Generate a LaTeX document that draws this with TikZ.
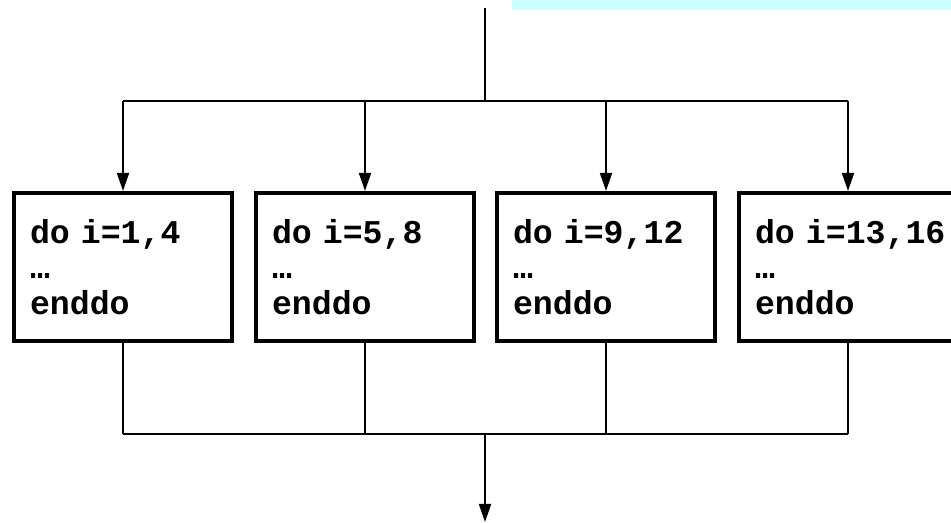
\documentclass[tikz,border=0pt]{standalone}
\usepackage{fontspec}
\newfontfamily\codefont{Liberation Mono}
\usetikzlibrary{arrows.meta, positioning, calc}
\definecolor{forkcyan}{HTML}{CCFFFF}
\tikzset{
  >={Triangle[length=9pt, width=6pt]},
  loopbox/.style={rectangle, draw=black, line width=2pt, fill=white,
                  align=left, text width=93pt, inner xsep=8pt,
                  minimum height=74pt,
                  font=\codefont\bfseries\fontsize{16.6}{17.8}\selectfont},
  link/.style={draw=black, line width=0.9pt},
  flow/.style={->, link},
}
\begin{document}
\begin{tikzpicture}[x=0.5pt,y=0.5pt]
  \useasboundingbox (0,0) rectangle (951,523);
  \fill[forkcyan] (512,513) rectangle (951,523);
  % the four chunks of the loop
  \foreach \x/\lo/\hi [count=\n] in {123/1/4, 365/5/8, 606/9/12, 848/13/16}{
    \node[loopbox] (b\n) at (\x,256) {\mbox{do i=\lo,\hi}\\…\\enddo};
  }
  \coordinate (top) at (485,515);
  \coordinate (fork) at (485,422);
  \coordinate (join) at (485,89);
  \coordinate (out) at (485,1);
  % fork
  \draw[link] (top) -- (fork);
  \draw[link] (b1.north |- fork) -- (b4.north |- fork);
  \foreach \n in {1,...,4}
    \draw[flow] (b\n.north |- fork) -- (b\n.north);
  % join
  \foreach \n in {1,...,4}
    \draw[link] (b\n.south) -- (b\n.south |- join);
  \draw[link] (b1.south |- join) -- (b4.south |- join);
  \draw[flow] (join) -- (out);
\end{tikzpicture}
\end{document}
